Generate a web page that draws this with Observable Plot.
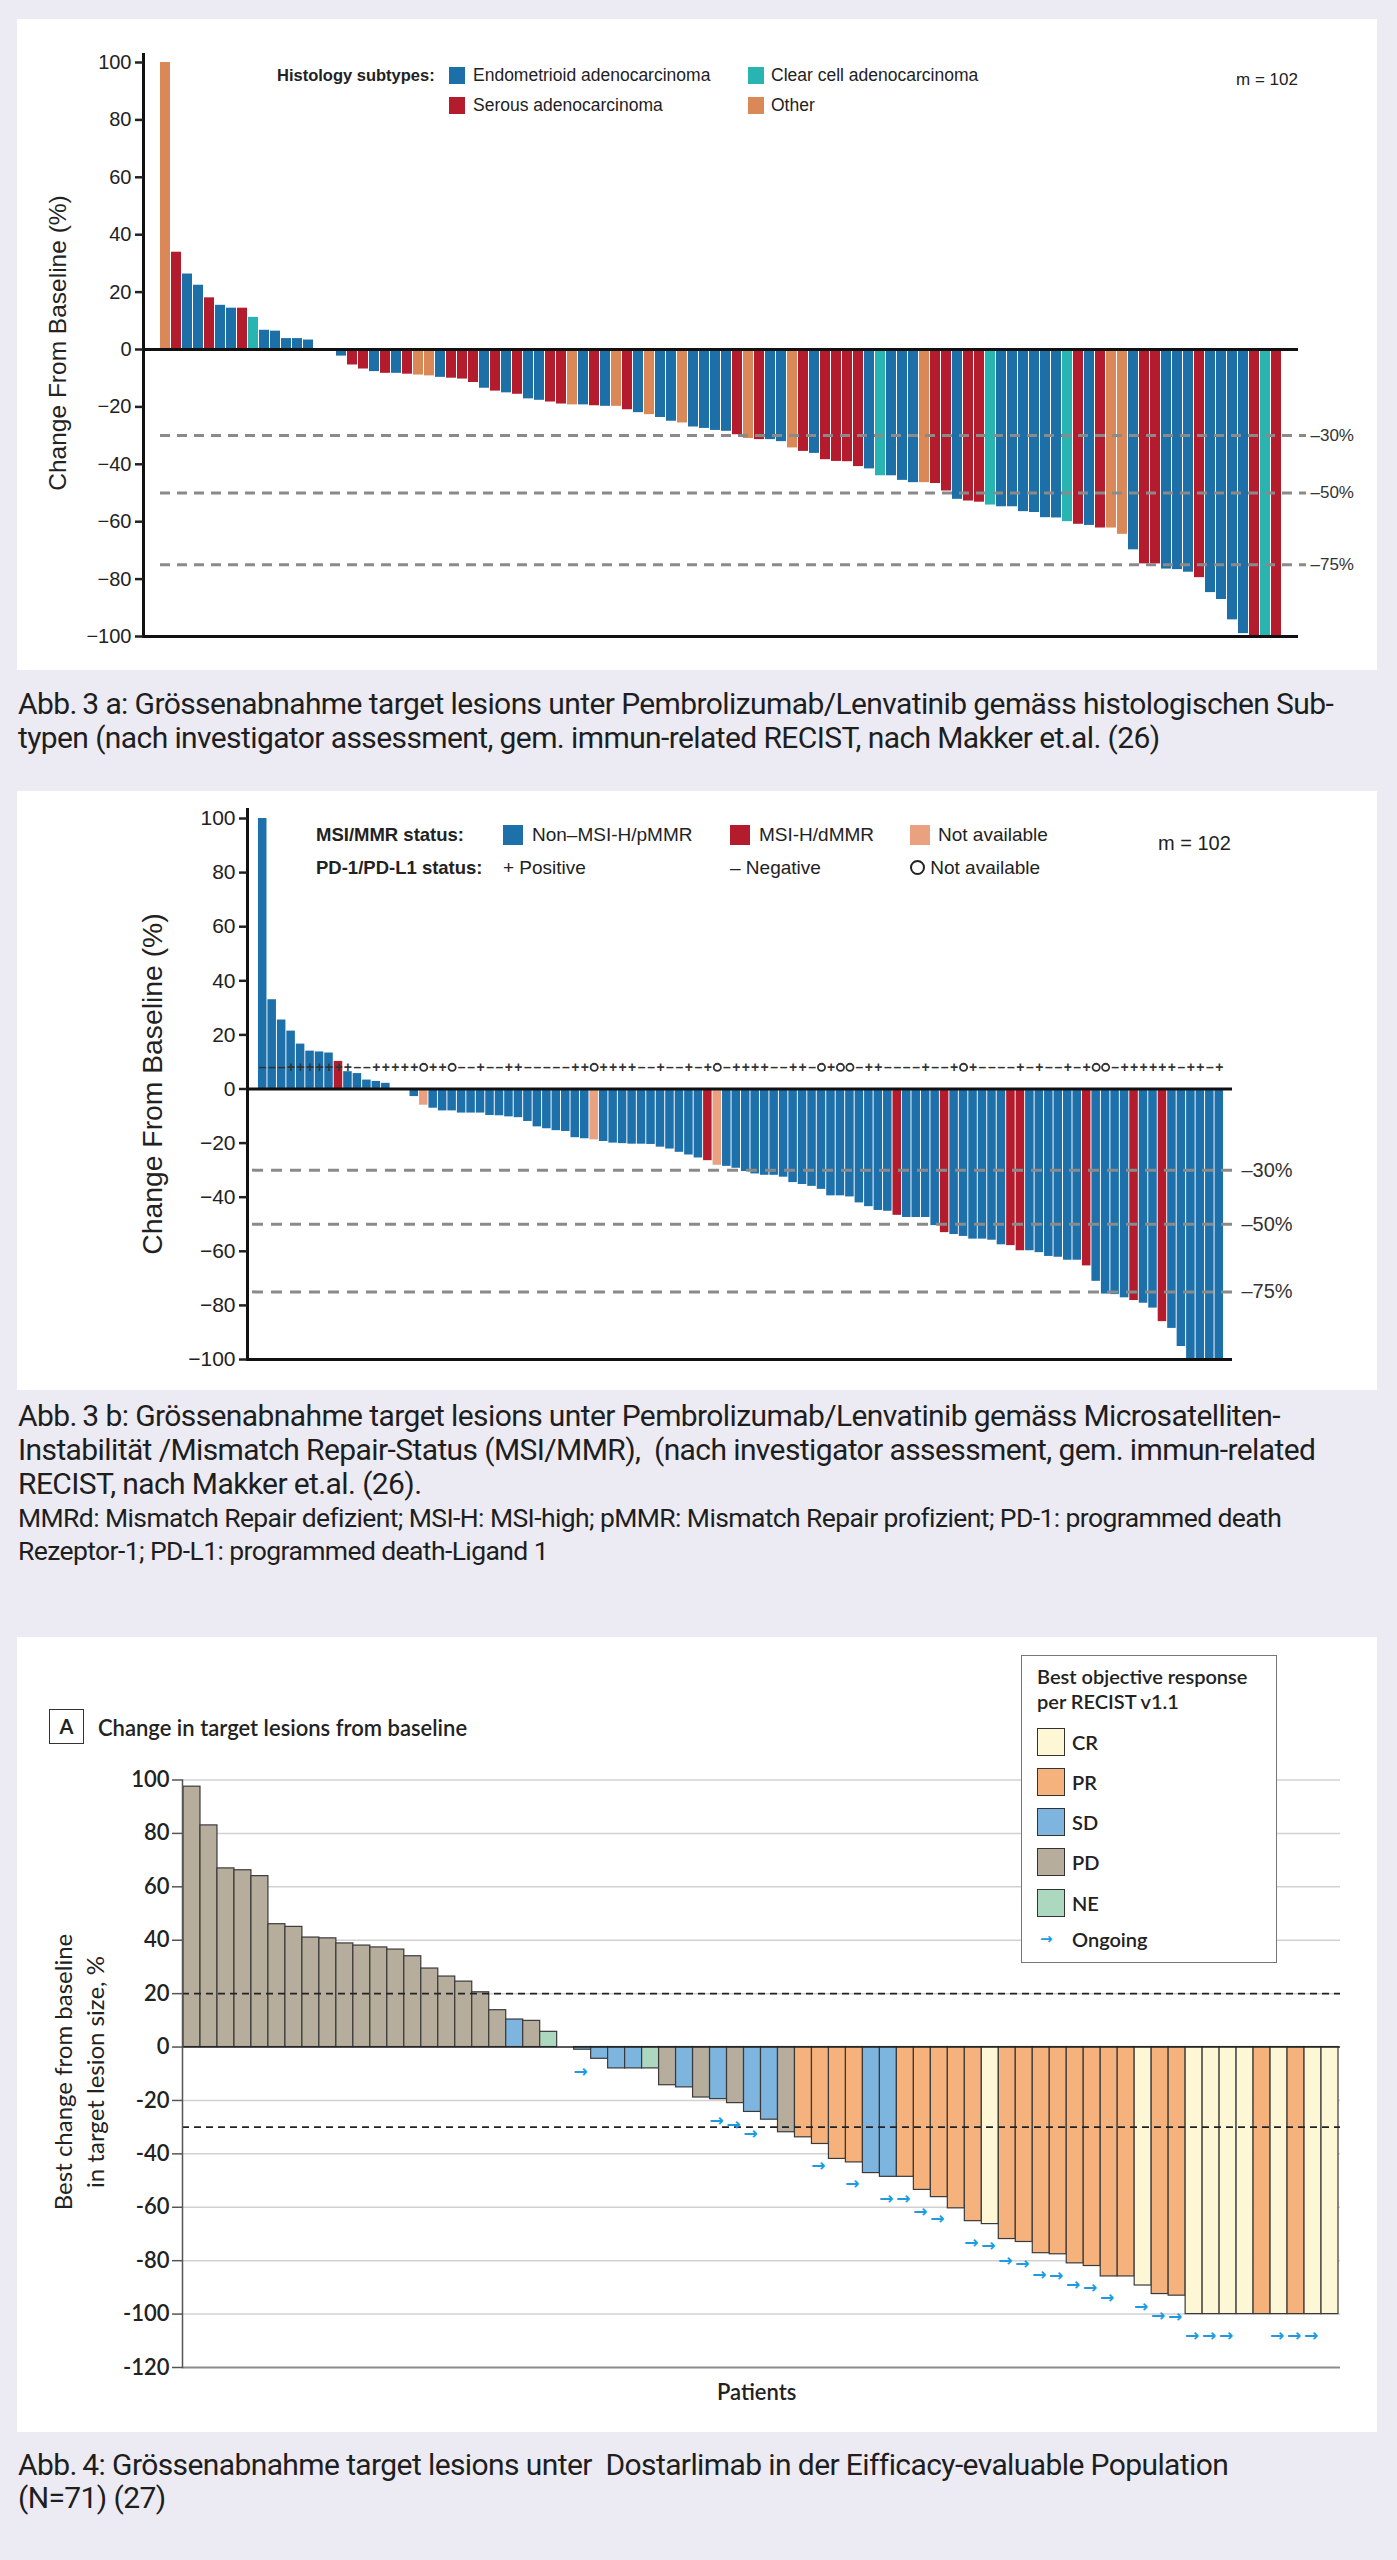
<!DOCTYPE html>
<html>
<head>
<meta charset="utf-8">
<script src="https://cdn.jsdelivr.net/npm/d3@7"></script>
<script src="https://cdn.jsdelivr.net/npm/@observablehq/plot@0.6"></script>
<style>
  html, body { margin: 0; padding: 0; background: #ecebf4; }
  #page { position: relative; width: 1397px; height: 2560px; background: #ecebf4; overflow: hidden;
          font-family: "Liberation Sans", Arial, sans-serif; color: #222; }
  .card { position: absolute; background: #ffffff; }
  .abs { position: absolute; white-space: nowrap; transform: translateY(-50%); }
  .rot { position: absolute; white-space: nowrap; transform: translate(-50%, -50%) rotate(-90deg); text-align: center; }
  .plot { position: absolute; }
  .cap { position: absolute; left: 18px; white-space: nowrap; transform: translateY(-50%);
         font-family: Roboto, "Open Sans", sans-serif; font-size: 30px; letter-spacing: -0.6px; color: #1e1e1e; }
  .cap.small { font-size: 26.5px; letter-spacing: -0.6px; }
  .sw { position: absolute; }
</style>
</head>
<body>
<div id="page"></div>
<script>
// ---------------- DATA ----------------
// Fig 3a: histology subtypes (E = endometrioid, S = serous, C = clear cell, O = other)
const histValues = [100, 33.9, 26.3, 22.4, 18, 15.4, 14.4, 14.4, 11.2, 6.7, 6.4, 3.8, 3.8, 3.3, 0, 0,
  -2.3, -5.4, -6.8, -7.7, -8.3, -8.3, -8.6, -8.9, -9.2, -9.7, -10, -10.3, -11.5, -13.5, -14.5, -15.1,
  -15.6, -17.2, -17.7, -18.3, -19, -19.3, -19.3, -19.6, -19.8, -19.8, -21, -22, -22.7, -23.7, -25, -25.6,
  -27, -27.5, -28.2, -28.5, -29.7, -31, -31.4, -31.4, -32.1, -34.3, -35.5, -36.2, -38.4, -39, -39.1, -40.8,
  -41.6, -44, -44, -45.6, -46.4, -46.4, -46.7, -49.3, -52.2, -52.8, -53.2, -54.2, -54.8, -54.8, -56.5, -56.8,
  -58.6, -58.7, -60, -60.9, -61.3, -62.2, -62.2, -64.4, -69.8, -74.7, -74.7, -76.5, -76.7, -77.6, -79.5, -84.7,
  -87.1, -94.2, -99, -100, -100, -100];
const histTypes = ["O","S","E","E","S","E","E","S","C","E","E","E","E","E","E","E",
  "E","S","S","E","S","E","S","O","O","E","S","S","S","E","S","E",
  "S","E","E","S","S","O","E","S","E","O","S","E","O","E","E","O",
  "E","E","E","E","S","O","S","E","E","O","S","E","S","S","S","S",
  "E","C","E","E","E","O","S","S","E","S","S","C","E","E","E","E",
  "E","E","C","S","E","S","O","O","E","S","S","E","E","E","S","E",
  "E","E","E","S","C","S"];
const histKeys = ["E", "S", "C", "O"];
const histLabels = ["Endometrioid adenocarcinoma", "Serous adenocarcinoma", "Clear cell adenocarcinoma", "Other"];
const histColors = ["#1d6fa8", "#b41c2d", "#28b4b0", "#db8858"];

// Fig 3b: MSI/MMR status (P = non-MSI-H/pMMR, D = MSI-H/dMMR, N = not available)
const msiValues = [100, 33, 25.5, 21.4, 16.6, 14, 13.7, 13.3, 10.2, 6.4, 5.7, 3.3, 2.8, 2.1, 0, 0,
  -2.8, -6, -7.1, -8.1, -8.1, -8.9, -8.9, -8.9, -9.8, -9.9, -10.3, -10.6, -12, -14, -14.7, -15.4,
  -15.7, -18, -18.4, -18.8, -19.4, -20, -20.2, -20.4, -20.4, -20.5, -21.5, -22.2, -23.4,
  -24.4, -25.5, -26.5, -28.2, -28.6, -29.3, -30.5, -31.4, -31.9, -31.9, -32.6, -34.6, -35.3, -36, -37.1,
  -39.5, -39.5, -39.9, -42.1, -43.5, -44.9, -45.2, -46.7, -47.5, -47.5, -47.5, -50.5, -53.1, -53.8, -54.5,
  -55.5, -55.5, -55.9, -57.6, -57.9, -59.8, -59.8, -60.5, -61.9, -62.2, -63.3, -63.3, -65.4, -71.1, -75.8,
  -76, -77.2, -78.2, -79.2, -81, -86, -88.5, -95.2, -100, -100, -100, -100];
const msiTypes = ["P","P","P","P","P","P","P","P","D","P","P","P","P","P","P","P",
  "P","N","P","P","P","P","P","P","P","P","P","P","P","P","P","P",
  "P","P","P","N","P","P","P","P","P","P","P","P","P",
  "P","P","D","N","P","P","P","P","P","P","P","P","P","P","P",
  "P","P","P","P","P","P","P","D","P","P","P","P","D","P","P",
  "P","P","P","P","D","D","P","P","P","P","P","P","D","P","P",
  "P","P","D","P","P","D","P","P","P","P","P","P"];
const msiKeys = ["P", "D", "N"];
const msiLabels = ["Non–MSI-H/pMMR", "MSI-H/dMMR", "Not available"];
const msiColors = ["#1d70aa", "#b41b2c", "#e9a17f"];
// PD-1/PD-L1 status per patient: + positive, - negative, o not available
const pdl1Status = ["-","-","-","+","+","+","+","+","+","+", "-","-","+","+","+","+","+","o","+","+",
  "o","-","-","+","-","-","+","+","-","-", "-","-","-","+","+","o","+","+","+","+",
  "-","-","+","-","-","+","-","+","o","-","+",
  "+","+","+","-","-","+","+","-","o","+", "o","o","-","+","+","-","-","-","-","+",
  "-","-","+","o","+","-","-","-","-","+", "-","+","-","-","+","-","+","o","o","-",
  "+","+","+","+","+","+","-","+","+","-","+"];
const pdl1RowValue = 8;

const thresholdsAB = [-30, -50, -75];
const thresholdLabels = ["–30%", "–50%", "–75%"];
const ticksAB = [100, 80, 60, 40, 20, 0, -20, -40, -60, -80, -100];

// Fig 4: Dostarlimab, best objective response
const respValues = [97.5, 83, 66.9, 66.2, 64, 46, 45, 41, 40.7, 38.8, 38, 37.3, 36.5, 34, 29.4, 26.4,
  24.5, 20.5, 13.8, 10.3, 9.8, 5.7, 0, -1, -4.4, -8, -8, -8, -14.3, -15.1,
  -18.9, -19.5, -21, -24.3, -27.2, -31.9, -33.8, -36.3, -41.9, -43.2, -47.2, -48.6, -48.6, -53.5, -56.2,
  -60.4, -65.2, -66.3, -71.9, -73, -77.2, -77.6, -81, -82, -85.9, -85.9, -89.3, -92.5, -93.1,
  -100, -100, -100, -100, -100, -100, -100, -100, -100];
const respTypes = ["PD","PD","PD","PD","PD","PD","PD","PD","PD","PD","PD","PD","PD","PD","PD","PD",
  "PD","PD","PD","SD","PD","NE","SD","SD","SD","SD","SD","NE","PD","SD",
  "PD","SD","PD","SD","SD","PD","PR","PR","PR","PR","SD","SD","PR","PR","PR",
  "PR","PR","CR","PR","PR","PR","PR","PR","PR","PR","PR","CR","PR","PR",
  "CR","CR","CR","CR","PR","CR","PR","CR","CR"];
const ongoingIdx = [23, 31, 32, 33, 37, 39, 41, 42, 43, 44, 46, 47, 48, 49, 50, 51, 52, 53, 54, 56, 57, 58,
  59, 60, 61, 64, 65, 66];
const respKeys = ["CR", "PR", "SD", "PD", "NE"];
const respColors = ["#fdf7d5", "#f6b27d", "#7db5df", "#b7ad9d", "#acd8c0"];
const ticksC = [100, 80, 60, 40, 20, 0, -20, -40, -60, -80, -100, -120];
const thresholdsC = [20, -30];
const arrowGap = 8;

// ---------------- HELPERS ----------------
const page = document.getElementById("page");
function el(tag, cls, css, html) {
  const d = document.createElement(tag);
  if (cls) d.className = cls;
  Object.assign(d.style, css || {});
  if (html != null) d.innerHTML = html;
  page.appendChild(d);
  return d;
}
function card(l, t, w, h) { el("div", "card", {left: l + "px", top: t + "px", width: w + "px", height: h + "px"}); }
function txt(x, yc, html, css) { return el("div", "abs", Object.assign({left: x + "px", top: yc + "px"}, css || {}), html); }
function rot(cx, cy, html, css) { return el("div", "rot", Object.assign({left: cx + "px", top: cy + "px"}, css || {}), html); }
function sw(x, y, w, h, color, css) { return el("div", "sw", Object.assign({left: x + "px", top: y + "px", width: w + "px", height: h + "px", background: color}, css || {})); }
function place(svg, l, t) { const d = el("div", "plot", {left: l + "px", top: t + "px"}); d.appendChild(svg); }

card(17, 19, 1360, 651);
card(17, 791, 1360, 599);
card(17, 1637, 1360, 795);

// ---------------- FIG 3a ----------------
const dataA = histValues.map((v, i) => ({i, v, t: histTypes[i]}));
const plotA = Plot.plot({
  width: 1358, height: 640,
  marginLeft: 125, marginRight: 88, marginTop: 34, marginBottom: 24,
  x: {type: "band", domain: d3.range(histValues.length), padding: 0.1, insetLeft: 9, axis: null},
  y: {domain: [-100, 100], insetTop: 8},
  color: {domain: histKeys, range: histColors},
  style: {fontFamily: "'Liberation Sans', Arial, sans-serif", color: "#222", background: "transparent", overflow: "visible"},
  marks: [
    Plot.barY(dataA, {x: "i", y: "v", fill: "t"}),
    Plot.ruleY([0, -100], {stroke: "#111", strokeWidth: 3, insetRight: -10}),
    Plot.ruleY(thresholdsAB, {stroke: "#8a8a8a", strokeWidth: 3, strokeDasharray: "10,7", insetLeft: 17, insetRight: -18}),
    Plot.text(thresholdsAB, {y: d => d, text: (d, i) => thresholdLabels[i], frameAnchor: "right", textAnchor: "start", dx: 22, fontSize: 17, fill: "#333"}),
    Plot.frame({anchor: "left", stroke: "#111", strokeWidth: 3}),
    Plot.axisY({ticks: ticksAB, tickSize: 8, tickPadding: 4, fontSize: 20, strokeWidth: 2.5, label: null})
  ]
});
place(plotA, 18, 20);
rot(58, 343, "Change From Baseline (%)", {fontSize: "24.5px"});

// legend 3a
txt(277, 75, "Histology subtypes:", {fontSize: "16.5px", fontWeight: "bold"});
sw(449, 67, 16, 17, histColors[0]); txt(473, 75, histLabels[0], {fontSize: "17.5px"});
sw(449, 97, 16, 17, histColors[1]); txt(473, 105, histLabels[1], {fontSize: "17.5px"});
sw(748, 67, 16, 17, histColors[2]); txt(771, 75, histLabels[2], {fontSize: "17.5px"});
sw(748, 97, 16, 17, histColors[3]); txt(771, 105, histLabels[3], {fontSize: "17.5px"});
txt(1236, 80, "m = 102", {fontSize: "17px"});

// ---------------- FIG 3b ----------------
const dataB = msiValues.map((v, i) => ({i, v, t: msiTypes[i], s: pdl1Status[i]}));
const plotB = Plot.plot({
  width: 1358, height: 590,
  marginLeft: 229, marginRight: 152, marginTop: 18, marginBottom: 22,
  x: {type: "band", domain: d3.range(msiValues.length), padding: 0.1, insetLeft: 10, axis: null},
  y: {domain: [-100, 100], insetTop: 9},
  color: {domain: msiKeys, range: msiColors},
  style: {fontFamily: "'Liberation Sans', Arial, sans-serif", color: "#222", background: "transparent", overflow: "visible"},
  marks: [
    Plot.barY(dataB, {x: "i", y: "v", fill: "t"}),
    Plot.ruleY([0, -100], {stroke: "#111", strokeWidth: 3, insetRight: -8}),
    Plot.ruleY(thresholdsAB, {stroke: "#8a8a8a", strokeWidth: 3, strokeDasharray: "11,8", insetLeft: 5, insetRight: -9}),
    Plot.text(thresholdsAB, {y: d => d, text: (d, i) => thresholdLabels[i], frameAnchor: "right", textAnchor: "start", dx: 17, fontSize: 20, fill: "#333"}),
    Plot.text(dataB.filter(d => d.s !== "o"), {x: "i", y: () => pdl1RowValue, text: d => d.s === "+" ? "+" : "–", fontSize: 14, fontWeight: "bold", fill: "#333"}),
    Plot.dot(dataB.filter(d => d.s === "o"), {x: "i", y: () => pdl1RowValue, r: 3.6, stroke: "#333", strokeWidth: 1.8, fill: "white"}),
    Plot.frame({anchor: "left", stroke: "#111", strokeWidth: 3}),
    Plot.axisY({ticks: ticksAB, tickSize: 8, tickPadding: 4, fontSize: 21, strokeWidth: 2.5, label: null})
  ]
});
place(plotB, 18, 791);
rot(152, 1084, "Change From Baseline (%)", {fontSize: "28.3px"});

// legend 3b
txt(316, 835, "MSI/MMR status:", {fontSize: "18.5px", fontWeight: "bold"});
sw(503, 825, 20, 20, msiColors[0]); txt(532, 835, msiLabels[0], {fontSize: "19px"});
sw(730, 825, 20, 20, msiColors[1]); txt(759, 835, msiLabels[1], {fontSize: "19px"});
sw(910, 825, 20, 20, msiColors[2]); txt(938, 835, msiLabels[2], {fontSize: "19px"});
txt(316, 868, "PD-1/PD-L1 status:", {fontSize: "18.5px", fontWeight: "bold"});
txt(503, 868, "+&nbsp;Positive", {fontSize: "19px"});
txt(730, 868, "–&nbsp;Negative", {fontSize: "19px"});
txt(910, 868, "<span style='display:inline-block;width:11px;height:11px;border:2.5px solid #222;border-radius:50%;vertical-align:-1px'></span>&nbsp;Not available", {fontSize: "19px"});
txt(1158, 843, "m = 102", {fontSize: "20px"});

// ---------------- FIG 4 ----------------
const dataC = respValues.map((v, i) => ({i, v, t: respTypes[i]}));
const arrowsC = ongoingIdx.map(i => ({i, v: respValues[i] - arrowGap}));
const plotC = Plot.plot({
  width: 1358, height: 617,
  marginLeft: 164, marginRight: 36, marginTop: 19.5, marginBottom: 10,
  x: {type: "band", domain: d3.range(respValues.length), padding: 0, insetLeft: 1, insetRight: 2, axis: null},
  y: {domain: [-120, 100]},
  color: {domain: respKeys, range: respColors},
  style: {fontFamily: "Lato, 'Open Sans', sans-serif", color: "#222", background: "transparent", overflow: "visible"},
  marks: [
    Plot.ruleY(ticksC.filter(d => d !== 0 && d !== -120), {stroke: "#d2d2d2", strokeWidth: 1.5}),
    Plot.ruleY([-120], {stroke: "#8c8c8c", strokeWidth: 1.8}),
    Plot.barY(dataC, {x: "i", y: "v", fill: "t", stroke: "#3a3a3a", strokeWidth: 1.2}),
    Plot.ruleY([0], {stroke: "#222", strokeWidth: 1.6}),
    Plot.ruleY(thresholdsC, {stroke: "#222", strokeWidth: 1.8, strokeDasharray: "7,5"}),
    Plot.text(arrowsC, {x: "i", y: "v", text: () => "→", fontFamily: "DejaVu Sans", fontSize: 17, fontWeight: "bold", fill: "#1a9be2", dx: -2}),
    Plot.frame({anchor: "left", stroke: "#555", strokeWidth: 1.5}),
    Plot.axisY({ticks: ticksC, tickSize: 10, tickPadding: 3, fontSize: 22, fontWeight: 600, stroke: "#555", strokeWidth: 1.5, label: null,
      tickFormat: d => d < 0 ? "-" + (-d) : String(d)})
  ]
});
place(plotC, 18, 1760);
rot(79, 2072, "Best change from baseline<br>in target lesion size, %",
  {fontFamily: "Lato, sans-serif", fontSize: "24px", lineHeight: "32px"});

// title A
el("div", "sw", {left: "49px", top: "1709px", width: "33px", height: "33px", border: "1.5px solid #333", background: "#fff",
  fontFamily: "Lato, sans-serif", fontWeight: "bold", fontSize: "20px", textAlign: "center", lineHeight: "33px"}, "A");
txt(98, 1727, "Change in target lesions from baseline", {fontFamily: "Lato, sans-serif", fontSize: "22px", fontWeight: "600"});
txt(717, 2391, "Patients", {fontFamily: "Lato, sans-serif", fontSize: "22px", fontWeight: "600"});

// legend box
el("div", "sw", {left: "1021px", top: "1655px", width: "254px", height: "306px", border: "1.5px solid #777", background: "#fff"});
const LF = {fontFamily: "Lato, sans-serif", fontSize: "20px", fontWeight: "600"};
txt(1037, 1676, "Best objective response", LF);
txt(1037, 1701, "per RECIST v1.1", LF);
const legY = [1728, 1768, 1808, 1848, 1889];
respKeys.forEach((k, j) => {
  sw(1037, legY[j], 26, 26, respColors[j], {border: "1.3px solid #333"});
  txt(1072, legY[j] + 14, k, LF);
});
txt(1040, 1939, "→", {fontFamily: "DejaVu Sans", fontSize: "15px", fontWeight: "bold", color: "#1a9be2"});
txt(1072, 1939, "Ongoing", LF);

// ---------------- CAPTIONS ----------------
function cap(y, text, small) { el("div", small ? "cap small" : "cap", {top: y + "px"}, text); }
cap(703, "Abb.&#8201;3 a: Grössenabnahme target lesions unter Pembrolizumab/Lenvatinib gemäss histologischen Sub-");
cap(737, "typen (nach investigator assessment, gem. immun-related RECIST, nach Makker et.al. (26)");
cap(1415, "Abb.&#8201;3 b: Grössenabnahme target lesions unter Pembrolizumab/Lenvatinib gemäss Microsatelliten-");
cap(1449, "Instabilität /Mismatch Repair-Status (MSI/MMR), &nbsp;(nach investigator assessment, gem. immun-related");
cap(1483, "RECIST, nach Makker et.al. (26).");
cap(1517, "MMRd: Mismatch Repair defizient; MSI-H: MSI-high; pMMR: Mismatch Repair profizient; PD-1: programmed death", true);
cap(1550, "Rezeptor-1; PD-L1: programmed death-Ligand 1", true);
cap(2464, "Abb.&#8201;4: Grössenabnahme target lesions unter &nbsp;Dostarlimab in der Eifficacy-evaluable Population");
cap(2497, "(N=71) (27)");
</script>
</body>
</html>
